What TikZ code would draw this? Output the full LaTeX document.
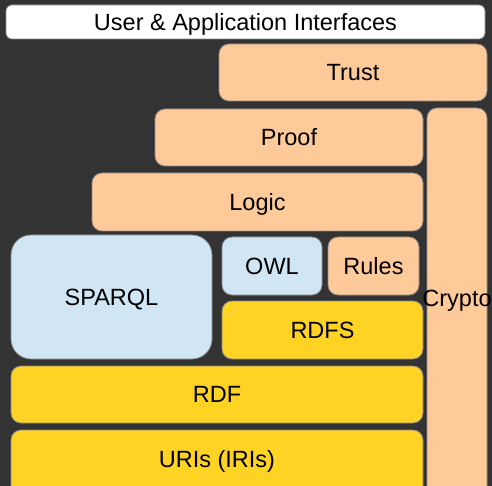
\documentclass[tikz,border=0pt]{standalone}
\usepackage{fontspec}
\setmainfont{Liberation Sans}
\definecolor{bgdark}{HTML}{333333}
\definecolor{peach}{HTML}{FFCA99}
\definecolor{lblue}{HTML}{D0E6F4}
\definecolor{yel}{HTML}{FFD324}
\definecolor{edge}{HTML}{8A8A8A}
\begin{document}
\begin{tikzpicture}[x=1pt,y=-1pt,
  boxtext/.style={font=\fontsize{23.5}{28}\selectfont, text height=16.8pt, text depth=0pt, inner sep=0pt},
  layer/.style={draw=edge, line width=0.8pt, rounded corners=10pt, boxtext},
  peachbox/.style={layer, fill=peach},
  bluebox/.style={layer, fill=lblue},
  yelbox/.style={layer, fill=yel},
  whitebox/.style={layer, fill=white, rounded corners=6pt}]
\useasboundingbox (0,0) rectangle (492,486);
\fill[bgdark] (0,0) rectangle (492,486);
\clip (0,0) rectangle (492,486);
% boxes: center x, center y, width, height
\node[whitebox, minimum width=479pt, minimum height=34pt] (ui) at (245.5,22) {User \& Application Interfaces};
\node[peachbox, minimum width=268pt, minimum height=57pt] (trust) at (353,72.5) {Trust};
\node[peachbox, minimum width=268pt, minimum height=57pt] (proof) at (289,137.5) {Proof};
\node[peachbox, minimum width=60pt, minimum height=398pt,
  label={[boxtext, yshift=9pt]center:Crypto}] (crypto) at (457,307) {};
\node[peachbox, minimum width=331pt, minimum height=58pt] (logic) at (257.5,202) {Logic};
\node[bluebox, rounded corners=20pt, minimum width=201pt, minimum height=124pt] (sparql) at (111.5,297) {SPARQL};
\node[bluebox, minimum width=100pt, minimum height=58pt] (owl) at (272,266) {OWL};
\node[peachbox, minimum width=91pt, minimum height=58pt] (rules) at (373.5,266) {Rules};
\node[yelbox, minimum width=201pt, minimum height=58pt] (rdfs) at (322.5,330) {RDFS};
\node[yelbox, minimum width=412pt, minimum height=57pt] (rdf) at (217,394.5) {RDF};
\node[yelbox, minimum width=412pt, minimum height=70pt,
  label={[boxtext, yshift=6pt]center:URIs (IRIs)}] (uris) at (217,465) {};
\end{tikzpicture}
\end{document}
